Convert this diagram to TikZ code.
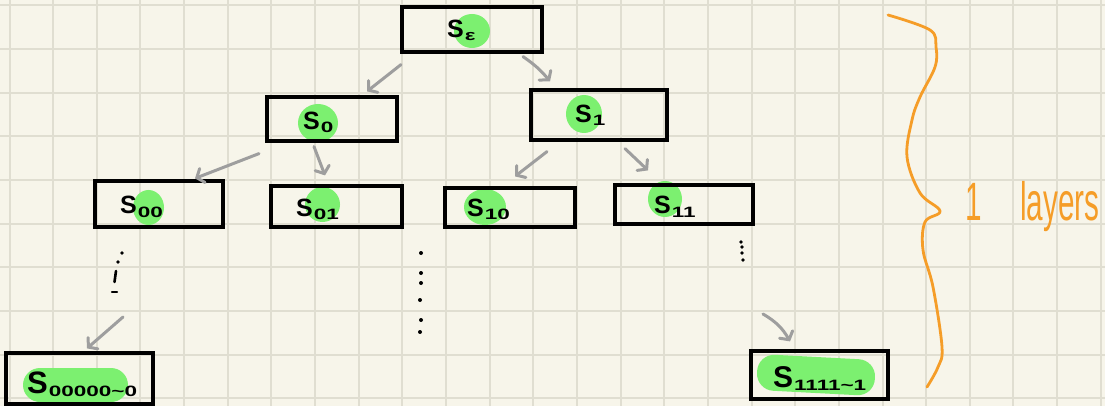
\documentclass[tikz,border=0pt]{standalone}
\usepackage{fontspec}
\setmainfont{Liberation Sans}
\usetikzlibrary{arrows.meta,shapes.geometric}
\definecolor{bgc}{RGB}{247,245,234}
\definecolor{gridc}{RGB}{224,222,209}
\definecolor{hlc}{RGB}{124,240,112}
\definecolor{arrc}{RGB}{158,158,158}
\definecolor{orc}{RGB}{245,157,40}
\newcommand{\Slab}[1]{S\kern1pt\raisebox{-3pt}{\fontsize{15}{15}\selectfont\scalebox{1.5}[1]{#1}}}
\begin{document}
\begin{tikzpicture}[x=1pt,y=-1pt,
  box/.style={draw=black,line width=3.2pt,inner sep=0pt,rectangle},
  hl/.style={fill=hlc,draw=none,ellipse,inner sep=0pt},
  pill/.style={fill=hlc,draw=none,rectangle,rounded corners=17pt,inner sep=0pt},
  lab/.style={font=\fontsize{25}{25}\selectfont\bfseries,inner sep=0pt,anchor=base west},
  arrow/.style={draw=arrc,line width=3pt,line cap=round,-{Straight Barb[length=6pt,width=15pt,line cap=round]}},
  gridline/.style={draw=gridc,line width=2pt},
  dot/.style={fill=black}]
\useasboundingbox (0,0) rectangle (1105,406);
\fill[bgc] (0,0) rectangle (1105,406);
\begin{scope}
\clip (0,0) rectangle (1105,406);
\foreach \i in {0,...,25} \draw[gridline] (9.5+43.65*\i,0) -- (9.5+43.65*\i,406);
\foreach \j in {0,...,9} \draw[gridline] (0,5.3+43.65*\j) -- (1105,5.3+43.65*\j);
\end{scope}

% highlights
\node[hl,minimum width=36pt,minimum height=34pt] (he) at (472,31) {};
\node[hl,minimum width=40pt,minimum height=38pt] (h0) at (318,123) {};
\node[hl,minimum width=36pt,minimum height=38pt] (h1) at (584,114) {};
\node[hl,minimum width=31pt,minimum height=35pt] (h00) at (148.5,207.5) {};
\node[hl,minimum width=35pt,minimum height=35pt] (h01) at (322.5,204.5) {};
\node[hl,minimum width=42pt,minimum height=36pt] (h10) at (485,207) {};
\node[hl,minimum width=34pt,minimum height=36pt] (h11) at (665,199) {};
\node[pill,minimum width=105pt,minimum height=34pt] (hbl) at (75.5,385) {};
\node[pill,minimum width=118pt,minimum height=36pt,rotate=-3] (hbr) at (816,375) {};

% boxes
\node[box,minimum width=140pt,minimum height=45pt] (e) at (472,29.5) {};
\node[box,minimum width=130pt,minimum height=44pt] (s0) at (332,119) {};
\node[box,minimum width=136pt,minimum height=50pt] (s1) at (599,115) {};
\node[box,minimum width=128pt,minimum height=46pt] (s00) at (159,204) {};
\node[box,minimum width=131pt,minimum height=41pt] (s01) at (336.5,206.5) {};
\node[box,minimum width=130pt,minimum height=39pt] (s10) at (510,207.5) {};
\node[box,minimum width=138pt,minimum height=39pt] (s11) at (684,204.5) {};
\node[box,minimum width=147pt,minimum height=51pt] (sbl) at (79.5,378.5) {};
\node[box,minimum width=137pt,minimum height=48pt] (sbr) at (819.5,375) {};

% labels
\node[lab] (le) at (447,38) {\Slab{ε}};
\node[lab] (l0) at (303,130) {\Slab{0}};
\node[lab] (l1) at (575,123) {\Slab{1}};
\node[lab] (l00) at (120,214) {\Slab{00}};
\node[lab] (l01) at (296,216) {\Slab{01}};
\node[lab] (l10) at (467,216) {\Slab{10}};
\node[lab] (l11) at (654,214) {\Slab{11}};
\node[lab,font=\fontsize{31}{31}\selectfont\bfseries] (lbl) at (27,393) {S\kern1pt\raisebox{-3pt}{\fontsize{15}{15}\selectfont\scalebox{1.5}[1]{00000\textasciitilde0}}};
\node[lab,font=\fontsize{30}{30}\selectfont\bfseries] (lbr) at (773,387) {S\kern1pt\raisebox{-3pt}{\fontsize{15}{15}\selectfont\scalebox{1.5}[1]{1111\textasciitilde1}}};

% arrows
\coordinate (cl) at (123,317);
\coordinate (cr) at (763,314);
\draw[arrow] ([shift={(-71,11)}]e.south) -- ([shift={(35,-4)}]s0.north);
\draw[arrow] ([shift={(51,3)}]e.south) to[bend left=8] ([shift={(-49,-7)}]s1.north);
\draw[arrow] ([shift={(-73,11)}]s0.south) -- ([shift={(36,-1)}]s00.north);
\draw[arrow] ([shift={(-18,4)}]s0.south) -- ([shift={(-11.5,-9)}]s01.north);
\draw[arrow] ([shift={(-52,10)}]s1.south) -- ([shift={(5,-10)}]s10.north);
\draw[arrow] ([shift={(26,7)}]s1.south) -- ([shift={(-36,-13)}]s11.north);
\draw[arrow] (cl) -- ([shift={(7.5,-3)}]sbl.north);
\draw[arrow] (cr) to[bend left=15] ([shift={(-29.5,-8)}]sbr.north);

% ellipsis dots
\fill[dot] (122,253) circle (1.8);
\fill[dot] (118,262) circle (1.8);
\draw[line width=2.6pt,line cap=round] (116,271) -- (114.5,282);
\draw[line width=2.4pt,line cap=round] (112,292) -- (117,292);
\foreach \p in {(421,253),(421,273),(421,283),(420,300),(421,320),(420,332)} \fill[dot] \p circle (2);
\foreach \p in {(741,242),(742,247),(742,253),(743,260)} \fill[dot] \p circle (1.8);

% brace
\draw[orc,line width=2.8pt,line cap=round,line join=round] plot[smooth,tension=0.6] coordinates {(888,15) (930,30) (936,47) (935,67) (920,97) (912,120) (907,157) (920,193) (940,211) (925,222) (923,250) (933,287) (942,347) (938,367) (927,387)};
\node[inner sep=0pt,anchor=base west,text=orc,font=\fontsize{54}{54}\selectfont] (txt) at (965,221) {\scalebox{0.55}[1]{1\hspace{70pt}layers}};
\end{tikzpicture}
\end{document}
